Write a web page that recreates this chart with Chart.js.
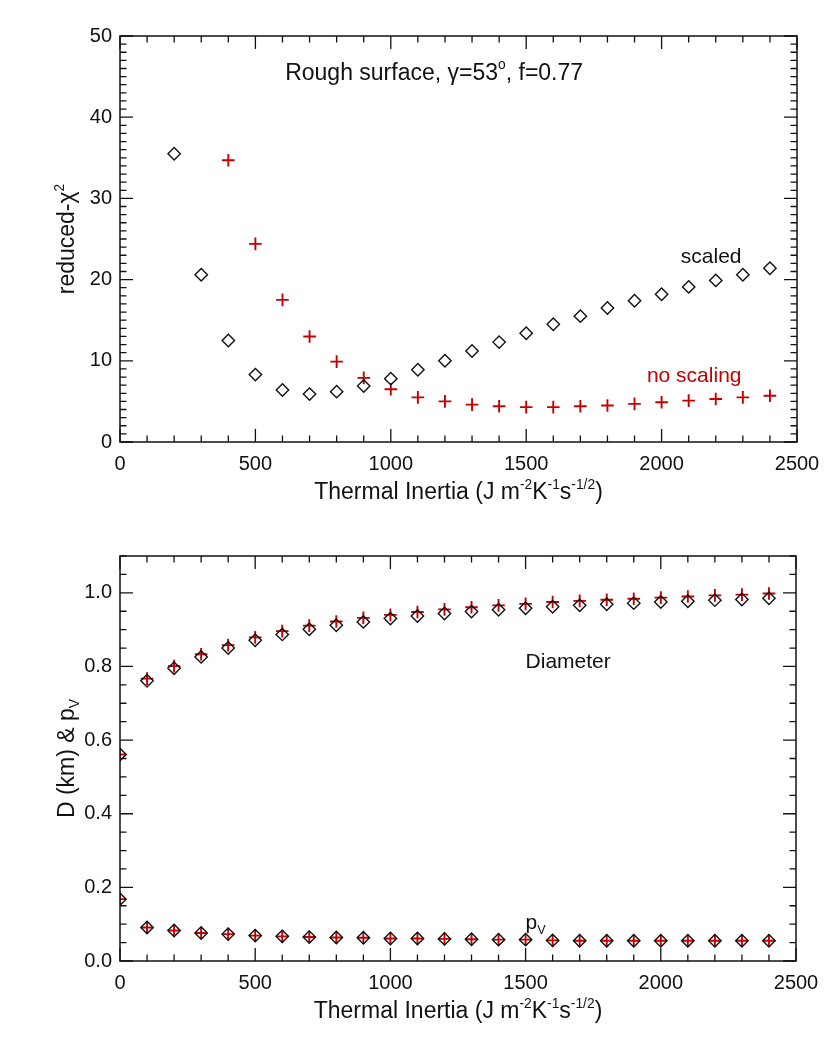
<!DOCTYPE html>
<html>
<head>
<meta charset="utf-8">
<script src="https://cdn.jsdelivr.net/npm/chart.js@4.4.1/dist/chart.umd.min.js"></script>
<style>
  html, body { margin: 0; padding: 0; background: #ffffff; }
  #wrap { position: relative; width: 830px; height: 1039px; }
  #c1 { position: absolute; left: 0; top: 0; }
  #c2 { position: absolute; left: 0; top: 520px; }
</style>
</head>
<body>
<div id="wrap">
  <canvas id="c1" width="830" height="520"></canvas>
  <canvas id="c2" width="830" height="519"></canvas>
</div>
<script>
// ---------------- DATA ----------------
const thermalInertia = [0,100,200,300,400,500,600,700,800,900,1000,1100,1200,1300,1400,1500,1600,1700,1800,1900,2000,2100,2200,2300,2400];

// top panel: reduced chi^2
const chi2Scaled    = [null,null,35.5,20.6,12.5,8.3,6.4,5.9,6.2,6.9,7.8,8.9,10.0,11.2,12.3,13.4,14.5,15.5,16.5,17.4,18.2,19.1,19.9,20.6,21.4];
const chi2NoScaling = [null,null,null,null,34.7,24.4,17.5,13.0,9.9,7.9,6.5,5.5,5.0,4.6,4.4,4.3,4.3,4.4,4.5,4.7,4.9,5.1,5.3,5.5,5.7];

// bottom panel: diameter (km) and geometric albedo
const diamScaled    = [0.561,0.761,0.795,0.826,0.850,0.871,0.887,0.901,0.912,0.921,0.930,0.937,0.944,0.949,0.954,0.958,0.962,0.966,0.969,0.972,0.975,0.977,0.980,0.982,0.985];
const diamNoScaling = [0.561,0.767,0.801,0.833,0.858,0.879,0.896,0.911,0.922,0.932,0.940,0.948,0.955,0.961,0.966,0.970,0.975,0.978,0.981,0.984,0.987,0.990,0.993,0.995,0.998];
const pvScaled      = [0.168,0.091,0.083,0.076,0.073,0.069,0.067,0.065,0.064,0.063,0.061,0.061,0.060,0.059,0.058,0.058,0.056,0.055,0.055,0.055,0.055,0.055,0.055,0.055,0.055];
const pvNoScaling   = [0.168,0.091,0.083,0.076,0.073,0.069,0.067,0.065,0.064,0.063,0.061,0.061,0.060,0.059,0.058,0.058,0.056,0.055,0.055,0.055,0.055,0.055,0.055,0.055,0.055];

// axes
const xTickValues = [0,500,1000,1500,2000,2500];
const chiTickValues = [0,10,20,30,40,50];
const dTickValues = [0.0,0.2,0.4,0.6,0.8,1.0];

// ---------------- STYLE ----------------
const FONT = '"Liberation Sans", Arial, Helvetica, sans-serif';
const FS = 20;      // tick labels
const FT = 23;      // axis titles / plot title
const FA = 21;      // annotations
const RED = '#c40000';
const INK = '#111111';

function pts(ys) {
  const out = [];
  ys.forEach((y, i) => { if (y !== null) out.push({x: thermalInertia[i], y: y}); });
  return out;
}

function drawRich(ctx, parts, x, y, align, size, color) {
  let w = 0;
  parts.forEach(p => {
    const s = (p.sup || p.sub) ? size * 0.6 : size;
    ctx.font = s + 'px ' + FONT;
    p._w = ctx.measureText(p.t).width;
    w += p._w;
  });
  let cx = align === 'center' ? x - w / 2 : (align === 'right' ? x - w : x);
  ctx.textAlign = 'left';
  ctx.textBaseline = 'alphabetic';
  ctx.fillStyle = color;
  parts.forEach(p => {
    const s = (p.sup || p.sub) ? size * 0.6 : size;
    ctx.font = s + 'px ' + FONT;
    const dy = p.sup ? -size * 0.45 : (p.sub ? size * 0.2 : 0);
    ctx.fillText(p.t, cx, y + dy);
    cx += p._w;
  });
}

const xTitleParts = () => [
  {t: 'Thermal Inertia (J m'}, {t: '-2', sup: true}, {t: 'K'}, {t: '-1', sup: true},
  {t: 's'}, {t: '-1/2', sup: true}, {t: ')'}
];

function tickSet(values) {
  return s => { s.ticks = values.map(v => ({value: v})); };
}

// frame + inward IDL-like ticks, plus texts
function framePlugin(cfg) {
  return {
    id: 'frame',
    afterDatasetsDraw(chart) {
      const ctx = chart.ctx;
      const a = chart.chartArea;
      const xs = chart.scales.x, ys = chart.scales.y;
      ctx.save();
      ctx.strokeStyle = INK;
      ctx.lineWidth = 1.5;
      ctx.strokeRect(a.left, a.top, a.right - a.left, a.bottom - a.top);
      ctx.lineWidth = 1.3;
      const MAJ = 13, MIN = 6.5;
      const nx = Math.round((xs.max - xs.min) / cfg.xMinor);
      for (let i = 0; i <= nx; i++) {
        const v = xs.min + i * cfg.xMinor;
        const px = xs.getPixelForValue(v);
        const isMaj = Math.abs(v / cfg.xMajor - Math.round(v / cfg.xMajor)) < 1e-6;
        const L = isMaj ? MAJ : MIN;
        ctx.beginPath();
        ctx.moveTo(px, a.bottom); ctx.lineTo(px, a.bottom - L);
        ctx.moveTo(px, a.top); ctx.lineTo(px, a.top + L);
        ctx.stroke();
      }
      const ny = Math.round((ys.max - ys.min) / cfg.yMinor);
      for (let i = 0; i <= ny; i++) {
        const v = ys.min + i * cfg.yMinor;
        const py = ys.getPixelForValue(v);
        const isMaj = Math.abs(v / cfg.yMajor - Math.round(v / cfg.yMajor)) < 1e-6;
        const L = isMaj ? MAJ : MIN;
        ctx.beginPath();
        ctx.moveTo(a.left, py); ctx.lineTo(a.left + L, py);
        ctx.moveTo(a.right, py); ctx.lineTo(a.right - L, py);
        ctx.stroke();
      }
      // x title
      drawRich(ctx, xTitleParts(), (a.left + a.right) / 2, a.bottom + 57, 'center', FT, INK);
      // y title (rotated)
      ctx.save();
      ctx.translate(74, (a.top + a.bottom) / 2);
      ctx.rotate(-Math.PI / 2);
      drawRich(ctx, cfg.yTitle, 0, 0, 'center', FT, INK);
      ctx.restore();
      // annotations positioned through the scales
      cfg.notes.forEach(nt => {
        drawRich(ctx, nt.parts, xs.getPixelForValue(nt.x), ys.getPixelForValue(nt.y), nt.align, nt.size, nt.color);
      });
      ctx.restore();
    }
  };
}

function baseScales(yMin, yMax, yTicks, decimals) {
  return {
    x: {
      type: 'linear', min: 0, max: 2500,
      grid: { display: false, drawTicks: false },
      border: { display: false },
      afterBuildTicks: tickSet(xTickValues),
      ticks: { color: INK, font: { family: FONT, size: FS }, padding: 10, maxRotation: 0, autoSkip: false,
               callback: v => String(v) },
      afterFit: s => { s.height = 78; }
    },
    y: {
      type: 'linear', min: yMin, max: yMax,
      grid: { display: false, drawTicks: false },
      border: { display: false },
      afterBuildTicks: tickSet(yTicks),
      ticks: { color: INK, font: { family: FONT, size: FS }, padding: 8, autoSkip: false,
               callback: v => Number(v).toFixed(decimals) },
      afterFit: s => { s.width = 120; }
    }
  };
}

const diamondDS = (label, data) => ({
  label, data, showLine: false, clip: 0,
  pointStyle: 'rectRot', pointRadius: 6.2, pointHoverRadius: 6.2,
  pointBorderColor: INK, pointBackgroundColor: 'rgba(0,0,0,0)', pointBorderWidth: 1.4
});
const crossDS = (label, data) => ({
  label, data, showLine: false, clip: 0,
  pointStyle: 'cross', pointRadius: 6.3, pointHoverRadius: 6.3,
  pointBorderColor: RED, pointBackgroundColor: RED, pointBorderWidth: 1.9
});

const commonOpts = (scales, rightPad) => ({
  responsive: false, animation: false, devicePixelRatio: 1,
  layout: { padding: { left: 0, top: 36, right: rightPad, bottom: 0 } },
  plugins: { legend: { display: false }, tooltip: { enabled: false }, title: { display: false } },
  scales
});

// ---------------- TOP CHART ----------------
new Chart(document.getElementById('c1'), {
  type: 'scatter',
  data: {
    datasets: [
      diamondDS('scaled', pts(chi2Scaled)),
      crossDS('no scaling', pts(chi2NoScaling))
    ]
  },
  options: commonOpts(baseScales(0, 50, chiTickValues, 0), 33),
  plugins: [framePlugin({
    xMinor: 100, xMajor: 500, yMinor: 1, yMajor: 10,
    yTitle: [{t: 'reduced-χ'}, {t: '2', sup: true}],
    notes: [
      {parts: [{t: 'Rough surface, γ=53'}, {t: 'o', sup: true}, {t: ', f=0.77'}], x: 1160, y: 44.6, align: 'center', color: INK, size: FT},
      {parts: [{t: 'scaled'}], x: 2295, y: 22.0, align: 'right', color: INK, size: FA},
      {parts: [{t: 'no scaling'}], x: 2295, y: 7.4, align: 'right', color: RED, size: FA}
    ]
  })]
});

// ---------------- BOTTOM CHART ----------------
new Chart(document.getElementById('c2'), {
  type: 'scatter',
  data: {
    datasets: [
      diamondDS('D scaled', pts(diamScaled)),
      diamondDS('pV scaled', pts(pvScaled)),
      crossDS('D no scaling', pts(diamNoScaling)),
      crossDS('pV no scaling', pts(pvNoScaling))
    ]
  },
  options: commonOpts(baseScales(0, 1.1, dTickValues, 1), 34),
  plugins: [framePlugin({
    xMinor: 100, xMajor: 500, yMinor: 0.05, yMajor: 0.2,
    yTitle: [{t: 'D (km) & p'}, {t: 'V', sub: true}],
    notes: [
      {parts: [{t: 'Diameter'}], x: 1500, y: 0.796, align: 'left', color: INK, size: FA},
      {parts: [{t: 'p'}, {t: 'V', sub: true}], x: 1500, y: 0.086, align: 'left', color: INK, size: FA}
    ]
  })]
});
</script>
</body>
</html>
